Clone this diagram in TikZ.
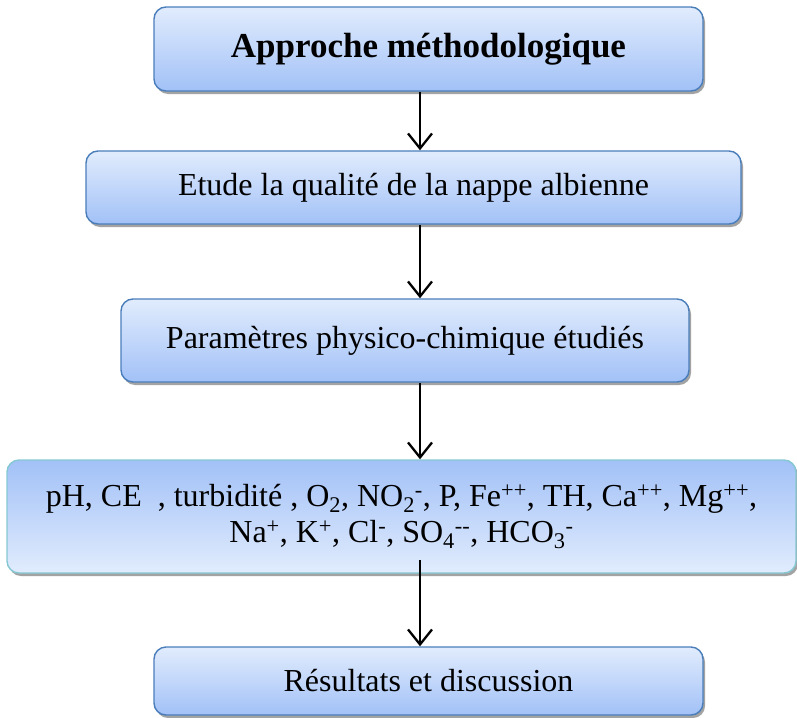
\documentclass[tikz,border=0pt]{standalone}
\usepackage{fontspec}
\setmainfont{Liberation Serif}
\usetikzlibrary{arrows.meta,shadows}

\definecolor{boxtop}{HTML}{E1ECFD}
\definecolor{boxbot}{HTML}{A2C1F7}
\definecolor{boxline}{HTML}{4A7EBB}
\definecolor{tealline}{HTML}{86C8D2}

\tikzset{
  stage/.style={draw=boxline, line width=1.4pt, rounded corners=12pt,
    top color=boxtop, bottom color=boxbot, align=center,
    drop shadow={shadow xshift=2pt, shadow yshift=-3pt, fill=black!45, opacity=0.8},
    font=\fontsize{32}{36}\selectfont},
  flowarrow/.style={line width=2.3pt, -{Straight Barb[length=15pt, width=24pt, line width=2.3pt]}}
}

\begin{document}
\begin{tikzpicture}[x=1pt, y=-1pt]
	
	%page frame
	\useasboundingbox (0,0) rectangle (797,717);

    %the stages
    \node[stage, minimum width=549pt, minimum height=84pt, font=\fontsize{35}{38}\selectfont\bfseries] (approche) at (428.5,49) {Approche méthodologique};
    \node[stage, minimum width=655pt, minimum height=73pt] (etude) at (413.5,187.5) {Etude la qualité de la nappe albienne};
    \node[stage, minimum width=568pt, minimum height=83pt] (param) at (405,340.5) {Paramètres physico-chimique étudiés};
    \node[stage, draw=tealline, top color=boxbot, bottom color=boxtop, minimum width=789pt, minimum height=113pt] (liste) at (401.5,516.5)
      {pH, CE~ , turbidité , O\textsubscript{2}, NO\textsubscript{2}\textsuperscript{-}, P, Fe\textsuperscript{++}, TH, Ca\textsuperscript{++}, Mg\textsuperscript{++},\\
       Na\textsuperscript{+}, K\textsuperscript{+}, Cl\textsuperscript{-}, SO\textsubscript{4}\textsuperscript{-{}-}, HCO\textsubscript{3}\textsuperscript{-}};
    \node[stage, minimum width=549pt, minimum height=68pt] (resultats) at (428.5,681) {Résultats et discussion};

    %the arrows
    \coordinate (axe) at (420,0);
    \coordinate (depart) at (420,560);
    \draw[flowarrow] (approche.south -| axe) -- (etude.north -| axe);
    \draw[flowarrow] (etude.south -| axe) -- (param.north -| axe);
    \draw[flowarrow] (param.south -| axe) -- (liste.north -| axe);
    \draw[flowarrow] (depart) -- (resultats.north -| axe);

\end{tikzpicture}
\end{document}
